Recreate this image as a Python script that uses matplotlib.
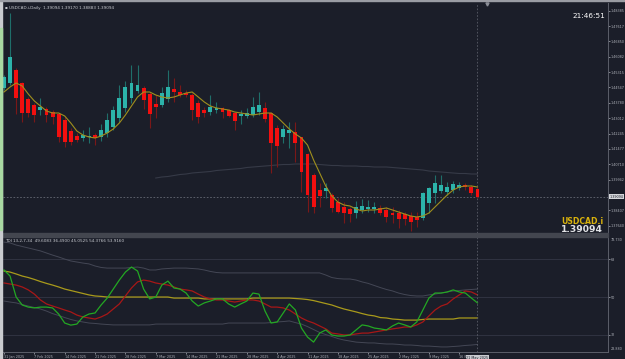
import numpy as np
import matplotlib.pyplot as plt
from matplotlib.patches import Rectangle

# USDCAD.i daily candles
opens = np.array([
    1.4452, 1.4477, 1.4542, 1.4477, 1.4397, 1.4367, 1.4342, 1.4347, 1.4332, 1.4322,
    1.4292, 1.4237, 1.4212, 1.4202, 1.4207, 1.4217, 1.4207, 1.4227, 1.4257, 1.4302,
    1.4352, 1.4402, 1.4437, 1.4452, 1.4422, 1.4372, 1.4367, 1.4397, 1.4447, 1.4432,
    1.4427, 1.4417, 1.4377, 1.4342, 1.4332, 1.4342, 1.4352, 1.4342, 1.4327, 1.4312,
    1.4312, 1.4317, 1.4332, 1.4352, 1.4327, 1.4252, 1.4207, 1.4227, 1.4232, 1.4207,
    1.4122, 1.4017, 1.3942, 1.3937, 1.3917, 1.3882, 1.3857, 1.3847, 1.3827, 1.3842,
    1.3847, 1.3847, 1.3852, 1.3842, 1.3827, 1.3827, 1.3822, 1.3812, 1.3807, 1.3802,
    1.3877, 1.3927, 1.3937, 1.3932, 1.3942, 1.3952, 1.3967, 1.3957, 1.3947])
highs = np.array([
    1.4517, 1.4827, 1.4552, 1.4482, 1.4407, 1.4377, 1.4402, 1.4357, 1.4342, 1.4327,
    1.4307, 1.4252, 1.4227, 1.4242, 1.4257, 1.4227, 1.4272, 1.4327, 1.4362, 1.4467,
    1.4487, 1.4567, 1.4567, 1.4462, 1.4432, 1.4417, 1.4457, 1.4542, 1.4502, 1.4467,
    1.4442, 1.4427, 1.4392, 1.4357, 1.4417, 1.4382, 1.4357, 1.4347, 1.4332, 1.4342,
    1.4352, 1.4407, 1.4432, 1.4382, 1.4332, 1.4267, 1.4267, 1.4282, 1.4282, 1.4207,
    1.4127, 1.4027, 1.3977, 1.3977, 1.3927, 1.3902, 1.3882, 1.3857, 1.3887, 1.3897,
    1.3892, 1.3882, 1.3867, 1.3857, 1.3857, 1.3842, 1.3832, 1.3832, 1.3832, 1.3932,
    1.3957, 1.4017, 1.4017, 1.3982, 1.3987, 1.3982, 1.3977, 1.3967, 1.3957])
lows = np.array([
    1.4442, 1.4467, 1.4322, 1.4282, 1.4307, 1.4282, 1.4317, 1.4282, 1.4272, 1.4182,
    1.4157, 1.4167, 1.4182, 1.4187, 1.4177, 1.4167, 1.4187, 1.4207, 1.4242, 1.4282,
    1.4332, 1.4377, 1.4427, 1.4347, 1.4252, 1.4302, 1.4357, 1.4382, 1.4382, 1.4407,
    1.4407, 1.4292, 1.4277, 1.4307, 1.4317, 1.4327, 1.4302, 1.4307, 1.4242, 1.4272,
    1.4302, 1.4307, 1.4317, 1.4282, 1.4027, 1.4057, 1.4177, 1.4152, 1.4082, 1.3932,
    1.3832, 1.3827, 1.3857, 1.3902, 1.3832, 1.3827, 1.3777, 1.3782, 1.3802, 1.3827,
    1.3832, 1.3827, 1.3817, 1.3782, 1.3777, 1.3752, 1.3767, 1.3737, 1.3757, 1.3792,
    1.3827, 1.3877, 1.3927, 1.3917, 1.3927, 1.3942, 1.3942, 1.3917, 1.3902])
closes = np.array([
    1.4507, 1.4607, 1.4402, 1.4327, 1.4327, 1.4317, 1.4357, 1.4317, 1.4307, 1.4207,
    1.4182, 1.4182, 1.4192, 1.4217, 1.4212, 1.4202, 1.4242, 1.4292, 1.4342, 1.4402,
    1.4457, 1.4477, 1.4467, 1.4392, 1.4322, 1.4357, 1.4427, 1.4457, 1.4432, 1.4417,
    1.4417, 1.4342, 1.4307, 1.4327, 1.4357, 1.4352, 1.4332, 1.4312, 1.4287, 1.4322,
    1.4327, 1.4357, 1.4367, 1.4297, 1.4177, 1.4162, 1.4247, 1.4242, 1.4177, 1.4032,
    1.3917, 1.3857, 1.3912, 1.3952, 1.3852, 1.3832, 1.3827, 1.3822, 1.3857, 1.3862,
    1.3857, 1.3857, 1.3827, 1.3807, 1.3817, 1.3797, 1.3797, 1.3782, 1.3792, 1.3927,
    1.3952, 1.3977, 1.3967, 1.3957, 1.3972, 1.3967, 1.3957, 1.3927, 1.39094])

# moving averages on the price panel
ma_fast = np.array([
    1.4432, 1.4457, 1.4477, 1.4462, 1.4422, 1.4387, 1.4362, 1.4337, 1.4327, 1.4327,
    1.4312, 1.4277, 1.4237, 1.4217, 1.4207, 1.4202, 1.4212, 1.4227, 1.4247, 1.4277,
    1.4317, 1.4362, 1.4407, 1.4432, 1.4432, 1.4417, 1.4407, 1.4402, 1.4407, 1.4417,
    1.4427, 1.4432, 1.4407, 1.4382, 1.4362, 1.4352, 1.4347, 1.4342, 1.4332, 1.4327,
    1.4322, 1.4317, 1.4322, 1.4327, 1.4327, 1.4307, 1.4277, 1.4247, 1.4222, 1.4202,
    1.4167, 1.4092, 1.4027, 1.3962, 1.3912, 1.3882, 1.3867, 1.3862, 1.3847, 1.3837,
    1.3842, 1.3842, 1.3847, 1.3852, 1.3842, 1.3832, 1.3822, 1.3812, 1.3807, 1.3812,
    1.3827, 1.3857, 1.3887, 1.3917, 1.3942, 1.3957, 1.3962, 1.3962, 1.3957])
slow_start = 25
ma_slow = np.array([
    1.4002, 1.4007, 1.40095, 1.40145, 1.40195, 1.4022, 1.4027, 1.40295, 1.4032, 1.40345,
    1.40395, 1.4042, 1.40445, 1.4047, 1.40495, 1.40545, 1.4057, 1.40595, 1.4062, 1.40645,
    1.4067, 1.40695, 1.40695, 1.4072, 1.4072, 1.4072, 1.4072, 1.40695, 1.4067, 1.40645,
    1.40645, 1.4062, 1.4062, 1.4062, 1.40595, 1.40595, 1.4057, 1.4057, 1.4057, 1.40545,
    1.4052, 1.40495, 1.4047, 1.40445, 1.4042, 1.4037, 1.40345, 1.4032, 1.40295, 1.4027,
    1.40245, 1.40245, 1.4022, 1.4022])

# TDI sub-window
tdi_green = np.array([
    63.0, 60.1, 50.1, 46.3, 45.3, 44.9, 45.3, 45.3, 44.9, 42.0,
    37.7, 36.7, 37.2, 40.6, 42.0, 42.5, 46.3, 49.6, 53.9, 58.2,
    62.0, 64.4, 62.5, 53.9, 49.2, 50.1, 55.8, 57.7, 54.4, 53.9,
    52.0, 48.2, 45.8, 47.3, 48.2, 49.2, 49.2, 46.8, 45.3, 46.8,
    48.2, 52.0, 51.5, 43.4, 37.7, 38.2, 42.5, 46.8, 43.9, 35.3,
    31.0, 28.6, 32.9, 34.4, 32.0, 31.5, 31.5, 32.0, 34.4, 36.8,
    36.3, 35.3, 34.9, 34.4, 36.3, 37.7, 36.8, 35.8, 38.2, 43.9,
    49.6, 52.0, 52.0, 52.5, 53.5, 52.5, 52.0, 49.6, 47.3])
tdi_red = np.array([
    56.8, 56.3, 55.8, 54.9, 53.5, 51.5, 48.7, 46.8, 45.8, 44.9,
    43.9, 43.0, 41.5, 40.6, 40.1, 39.6, 40.6, 42.0, 44.4, 46.8,
    50.6, 54.4, 57.3, 58.2, 57.7, 56.8, 56.3, 55.8, 54.9, 53.9,
    53.5, 53.0, 51.5, 50.1, 49.2, 48.7, 48.7, 48.2, 47.7, 48.2,
    48.7, 48.7, 48.2, 46.8, 45.3, 45.3, 44.9, 43.9, 42.0, 40.1,
    38.7, 37.7, 36.3, 34.9, 32.9, 32.5, 32.0, 32.0, 32.5, 32.9,
    32.9, 33.4, 33.9, 34.4, 34.9, 35.3, 35.8, 35.8, 36.8, 38.2,
    41.1, 43.9, 45.8, 46.8, 49.2, 51.1, 53.0, 52.5, 51.1])
tdi_yellow = np.array([
    62.5, 62.0, 61.1, 60.1, 59.4, 58.5, 57.5, 56.6, 55.8, 54.9,
    53.9, 53.2, 52.5, 51.8, 51.1, 50.6, 50.4, 50.1, 50.1, 50.1,
    50.1, 50.1, 50.1, 50.1, 50.1, 50.1, 50.1, 50.1, 49.6, 49.6,
    49.6, 49.6, 49.6, 49.2, 49.2, 49.2, 49.2, 49.2, 49.2, 49.2,
    49.2, 49.6, 49.6, 49.6, 49.6, 49.6, 49.6, 49.6, 49.4, 49.2,
    48.9, 48.4, 47.7, 47.0, 46.3, 45.3, 44.4, 43.7, 43.0, 42.2,
    41.5, 41.1, 40.3, 40.1, 39.6, 39.4, 39.1, 39.1, 39.1, 39.4,
    39.6, 39.6, 39.6, 39.6, 39.6, 40.1, 40.1, 40.1, 40.1])
tdi_upper = np.array([
    76.3, 75.9, 74.9, 74.2, 73.5, 72.8, 72.1, 71.1, 70.1, 69.2,
    68.2, 67.3, 66.8, 66.3, 65.9, 64.9, 64.2, 63.9, 63.9, 63.9,
    63.9, 64.2, 64.4, 63.9, 63.0, 63.0, 63.5, 63.7, 63.9, 63.9,
    63.9, 63.7, 63.5, 63.0, 62.3, 61.8, 61.6, 61.6, 61.6, 61.6,
    61.6, 61.6, 61.6, 61.6, 61.6, 61.6, 61.6, 61.6, 61.6, 61.6,
    61.6, 61.6, 61.6, 60.6, 59.4, 58.9, 58.7, 58.7, 58.2, 57.3,
    56.6, 55.6, 54.6, 53.7, 53.0, 52.0, 51.3, 50.8, 50.6, 50.6,
    51.1, 51.5, 52.0, 52.5, 53.0, 53.2, 53.5, 53.7, 53.9])
tdi_lower = np.array([
    48.2, 47.7, 47.3, 46.5, 45.8, 45.1, 44.4, 43.4, 42.2, 41.3,
    40.3, 39.4, 38.7, 38.2, 37.7, 37.5, 37.2, 37.0, 36.8, 36.8,
    36.8, 36.8, 36.8, 36.8, 36.8, 37.2, 37.2, 37.2, 37.2, 37.2,
    37.2, 37.2, 37.2, 37.2, 37.2, 37.2, 37.2, 37.7, 37.7, 37.7,
    37.7, 37.7, 37.7, 37.7, 37.9, 38.2, 38.4, 38.7, 37.9, 37.2,
    36.0, 34.6, 33.2, 32.2, 31.3, 30.3, 29.6, 29.1, 28.6, 28.4,
    28.2, 28.2, 27.9, 27.7, 27.7, 27.5, 27.2, 27.2, 27.0, 26.7,
    26.7, 26.5, 26.3, 26.3, 26.5, 26.7, 27.0, 27.2, 27.5])
tdi_levels = [68, 50, 32]

date_labels = ['31 Jan 2025', '7 Feb 2025', '14 Feb 2025', '21 Feb 2025', '28 Feb 2025',
               '7 Mar 2025', '14 Mar 2025', '21 Mar 2025', '28 Mar 2025', '4 Apr 2025',
               '11 Apr 2025', '18 Apr 2025', '25 Apr 2025', '2 May 2025', '9 May 2025',
               '16 May 2025']
cursor_label = '21 May 2025'

bg = '#1b1e29'
axis_col = '#5c5f6a'
label_col = '#aeb1b9'
teal, teal_wick = '#2cb3aa', '#1f6e6a'
red, red_wick = '#f20f0f', '#7a1818'
tiny = 2.4

idx = np.arange(len(closes))

fig = plt.figure(figsize=(6.25, 3.59), dpi=100, facecolor=bg)
W, H = 625.0, 359.0
ax = fig.add_axes([3 / W, (H - 233) / H, 605 / W, 230 / H], facecolor=bg)
ax2 = fig.add_axes([3 / W, (H - 352) / H, 605 / W, 115 / H], facecolor=bg)

# frame decorations
fig.patches.append(Rectangle((3 / W, (H - 237) / H), 605 / W, 4 / H,
                             transform=fig.transFigure, color='#43464f', zorder=0))
fig.patches.append(Rectangle((0, 0), 2 / W, 1, transform=fig.transFigure,
                             color='#c9cbcf', zorder=5))
fig.patches.append(Rectangle((0, (H - 230) / H), 2 / W, 202 / H,
                             transform=fig.transFigure, color='#a9d9a2', zorder=6))
fig.patches.append(Rectangle((0, (H - 1.2) / H), 1, 1.2 / H,
                             transform=fig.transFigure, color='#9a9ca3', zorder=5))

xlim = (-0.165, 99.5)

# ---- price panel ----
up = closes >= opens
dn = ~up
body = np.maximum(np.abs(closes - opens), 0.0003)
ax.vlines(idx[up], lows[up], highs[up], color=teal_wick, lw=0.8, zorder=2)
ax.vlines(idx[dn], lows[dn], highs[dn], color=red_wick, lw=0.8, zorder=2)
ax.bar(idx[up], body[up], bottom=np.minimum(opens, closes)[up], width=0.64,
       color=teal, lw=0, zorder=3)
ax.bar(idx[dn], body[dn], bottom=np.minimum(opens, closes)[dn], width=0.64,
       color=red, lw=0, zorder=3)

ax.plot(idx[slow_start:], ma_slow, color='#363a47', lw=0.8, zorder=1)
ax.plot(idx, ma_fast, color='#a08f1d', lw=0.8, zorder=4)
ax.axhline(closes[-1], color='#666a75', lw=0.6, ls=(0, (2, 2)), zorder=1)
ax.axvline(idx[-1], color='#5a5d68', lw=0.6, ls=(0, (2, 2)), zorder=1)

ax.set_xlim(*xlim)
ax.set_ylim(1.3727, 1.4877)
ax.set_xticks([])
yt = 1.48385 - 0.007675 * np.arange(15)
yt = yt[np.abs(yt - closes[-1]) > 0.002]
ax.set_yticks(yt)
ax.set_yticklabels(['%.5f' % v for v in yt])
ax.yaxis.tick_right()
ax.tick_params(axis='y', labelsize=tiny, colors=label_col, length=1.5, width=0.5, pad=0.6)
for s in ['left', 'top', 'bottom']:
    ax.spines[s].set_visible(False)
ax.spines['right'].set_color(axis_col)
ax.spines['right'].set_linewidth(0.7)

ax.text(1.002, closes[-1], '%.5f' % closes[-1], transform=ax.get_yaxis_transform(),
        fontsize=tiny, color='#1b1e29', va='center', ha='left', zorder=10,
        bbox=dict(boxstyle='square,pad=0.2', fc='#d4d6da', ec='none'), clip_on=False)
ax.text(0.004, 0.985, '\u25aa USDCAD.i,Daily  1.39094 1.39170 1.38883 1.39094',
        transform=ax.transAxes, fontsize=3.0, color='#c8cad0', va='top', ha='left')
ax.plot([79.6], [1.4872], marker='v', ms=2.2, color='#8a8d96', clip_on=False)

fig.text(605 / W, 1 - 16 / H, '21:46:51', color='white', fontsize=5.2,
         ha='right', va='center')
fig.text(603 / W, 1 - 221.5 / H, 'USDCAD.i', color='#d9b20c', fontsize=5.6,
         fontweight='bold', ha='right', va='center')
fig.text(603 / W, 1 - 229.5 / H, '%.5f' % closes[-1], color='#e2e3e6', fontsize=6.6,
         fontweight='bold', ha='right', va='center')

# ---- TDI panel ----
for lv in tdi_levels:
    ax2.axhline(lv, color='#343745', lw=0.6, zorder=0)
ax2.plot(idx, tdi_upper, color='#444755', lw=0.7)
ax2.plot(idx, tdi_lower, color='#444755', lw=0.7)
ax2.plot(idx, tdi_yellow, color='#a99a1b', lw=0.9)
ax2.plot(idx, tdi_red, color='#a81717', lw=0.9)
ax2.plot(idx, tdi_green, color='#23a823', lw=0.9)
ax2.axvline(idx[-1], color='#5a5d68', lw=0.6, ls=(0, (2, 2)))

ax2.set_xlim(*xlim)
ax2.set_ylim(23.88, 78.73)
ax2.set_yticks(tdi_levels)
ax2.set_yticklabels([str(v) for v in tdi_levels])
ax2.yaxis.tick_right()
ax2.tick_params(axis='y', labelsize=tiny, colors=label_col, length=1.5, width=0.5, pad=0.6)
ax2.set_xticks(idx[::5])
ax2.set_xticklabels(date_labels)
ax2.tick_params(axis='x', labelsize=tiny, colors=label_col, length=1.5, width=0.5, pad=0.8)
for lab in ax2.get_xticklabels():
    lab.set_ha('left')
for s in ['left', 'top']:
    ax2.spines[s].set_visible(False)
for s in ['right', 'bottom']:
    ax2.spines[s].set_color(axis_col)
    ax2.spines[s].set_linewidth(0.7)

ax2.text(1.004, 0.995, '78.730', transform=ax2.transAxes, fontsize=tiny, color=label_col,
         va='top', ha='left')
ax2.text(1.004, 0.005, '23.880', transform=ax2.transAxes, fontsize=tiny, color=label_col,
         va='bottom', ha='left')
ax2.text(0.004, 0.985, 'TDI 13,2,7,34  49.6083 36.4900 45.0525 54.3766 53.9160',
         transform=ax2.transAxes, fontsize=3.0, color='#c8cad0', va='top', ha='left')
ax2.text(idx[-1], -0.035, cursor_label, transform=ax2.get_xaxis_transform(),
         fontsize=tiny, color='#1b1e29', ha='center', va='top', zorder=10,
         bbox=dict(boxstyle='square,pad=0.2', fc='#c9cbd0', ec='none'), clip_on=False)

fig.savefig('out.png', dpi=100, facecolor=bg)
